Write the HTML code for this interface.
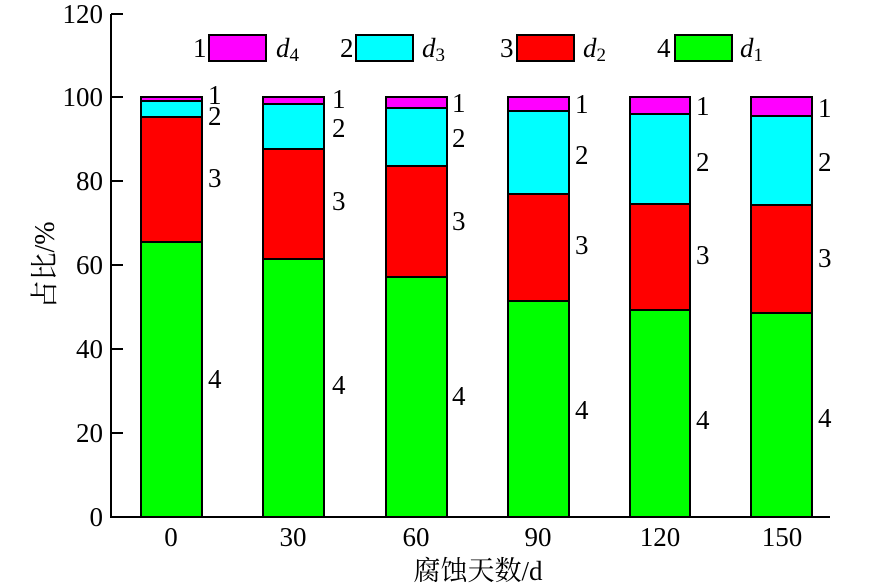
<!DOCTYPE html>
<html><head><meta charset="utf-8"><style>body{margin:0;background:#fff}svg{display:block}</style></head><body>
<svg width="869" height="587" xmlns="http://www.w3.org/2000/svg" font-family="Liberation Serif, Noto Serif CJK SC, serif" font-size="27">
<g stroke="#000" stroke-width="2">
<line x1="111" y1="14" x2="111" y2="517"/>
<line x1="110" y1="517" x2="830" y2="517"/>
<line x1="111" y1="14" x2="123" y2="14"/>
<line x1="111" y1="97" x2="123" y2="97"/>
<line x1="111" y1="181" x2="123" y2="181"/>
<line x1="111" y1="265" x2="123" y2="265"/>
<line x1="111" y1="349" x2="123" y2="349"/>
<line x1="111" y1="433" x2="123" y2="433"/>
</g>
<g text-anchor="end">
<text x="103" y="23">120</text><text x="103" y="106">100</text><text x="103" y="190">80</text>
<text x="103" y="274">60</text><text x="103" y="358">40</text><text x="103" y="442">20</text><text x="103" y="526">0</text>
</g>
<g text-anchor="middle">
<text x="171" y="546">0</text><text x="293" y="546">30</text><text x="416" y="546">60</text>
<text x="538" y="546">90</text><text x="660" y="546">120</text><text x="782" y="546">150</text>
<text x="478" y="580">腐蚀天数/d</text>
</g>
<text transform="translate(54,265) rotate(-90)" text-anchor="middle" font-size="28">占比/%</text>
<g stroke="#000" stroke-width="2">
<rect x="209" y="35" width="57" height="26" fill="#ff00ff"/>
<rect x="356" y="35" width="57" height="26" fill="#00ffff"/>
<rect x="517" y="35" width="57" height="26" fill="#ff0000"/>
<rect x="675" y="35" width="57" height="26" fill="#00ff00"/>
<rect x="141" y="242" width="61" height="275" fill="#00ff00"/><rect x="141" y="117" width="61" height="125" fill="#ff0000"/><rect x="141" y="101" width="61" height="16" fill="#00ffff"/><rect x="141" y="97" width="61" height="4" fill="#ff00ff"/>
<rect x="263" y="259" width="61" height="258" fill="#00ff00"/><rect x="263" y="149" width="61" height="110" fill="#ff0000"/><rect x="263" y="104" width="61" height="45" fill="#00ffff"/><rect x="263" y="97" width="61" height="7" fill="#ff00ff"/>
<rect x="386" y="277" width="61" height="240" fill="#00ff00"/><rect x="386" y="166" width="61" height="111" fill="#ff0000"/><rect x="386" y="108" width="61" height="58" fill="#00ffff"/><rect x="386" y="97" width="61" height="11" fill="#ff00ff"/>
<rect x="508" y="301" width="61" height="216" fill="#00ff00"/><rect x="508" y="194" width="61" height="107" fill="#ff0000"/><rect x="508" y="111" width="61" height="83" fill="#00ffff"/><rect x="508" y="97" width="61" height="14" fill="#ff00ff"/>
<rect x="630" y="310" width="60" height="207" fill="#00ff00"/><rect x="630" y="204" width="60" height="106" fill="#ff0000"/><rect x="630" y="114" width="60" height="90" fill="#00ffff"/><rect x="630" y="97" width="60" height="17" fill="#ff00ff"/>
<rect x="751" y="313" width="61" height="204" fill="#00ff00"/><rect x="751" y="205" width="61" height="108" fill="#ff0000"/><rect x="751" y="116" width="61" height="89" fill="#00ffff"/><rect x="751" y="97" width="61" height="19" fill="#ff00ff"/>
</g>
<text x="193" y="57">1</text><text x="276" y="57" font-style="italic">d<tspan font-size="19" dy="4" font-style="normal">4</tspan></text>
<text x="340" y="57">2</text><text x="422" y="57" font-style="italic">d<tspan font-size="19" dy="4" font-style="normal">3</tspan></text>
<text x="500" y="57">3</text><text x="583" y="57" font-style="italic">d<tspan font-size="19" dy="4" font-style="normal">2</tspan></text>
<text x="657" y="57">4</text><text x="740" y="57" font-style="italic">d<tspan font-size="19" dy="4" font-style="normal">1</tspan></text>
<g>
<text x="208" y="104">1</text><text x="208" y="125">2</text><text x="208" y="187">3</text><text x="208" y="388">4</text>
<text x="332" y="108">1</text><text x="332" y="137">2</text><text x="332" y="210">3</text><text x="332" y="394">4</text>
<text x="452" y="112">1</text><text x="452" y="147">2</text><text x="452" y="230">3</text><text x="452" y="405">4</text>
<text x="575" y="113">1</text><text x="575" y="164">2</text><text x="575" y="254">3</text><text x="575" y="419">4</text>
<text x="696" y="115">1</text><text x="696" y="171">2</text><text x="696" y="264">3</text><text x="696" y="429">4</text>
<text x="818" y="117">1</text><text x="818" y="171">2</text><text x="818" y="267">3</text><text x="818" y="427">4</text>
</g>
</svg>
</body></html>
